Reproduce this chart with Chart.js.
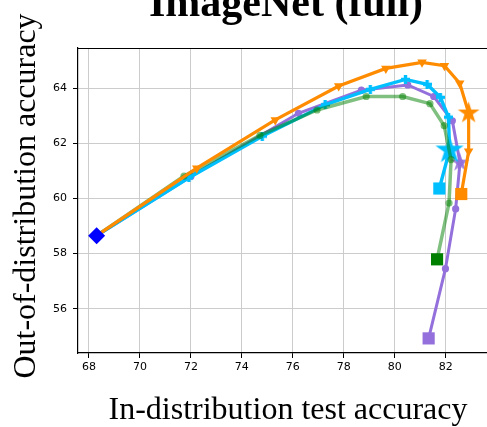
<!DOCTYPE html>
<html>
<head>
<meta charset="utf-8">
<script src="https://cdn.jsdelivr.net/npm/chart.js@4/dist/chart.umd.min.js"></script>
<style>
  body { margin: 0; background: #fff; overflow: hidden; }
  #wrap { width: 487px; height: 427px; overflow: hidden; }
  canvas { display: block; }
</style>
</head>
<body>
<div id="wrap"><canvas id="chart" width="487" height="427"></canvas></div>
<script>
// values
const titleText = 'ImageNet (full)';
const xLabel = 'In-distribution test accuracy';
const yLabel = 'Out-of-distribution accuracy';

const xTicks = [68, 70, 72, 74, 76, 78, 80, 82];
const yTicks = [56, 58, 60, 62, 64];

const startX = [68.30];
const startY = [58.65];

const orangeX = [68.30, 72.23, 75.31, 77.80, 79.65, 81.07, 81.95, 82.55, 82.90, 82.90, 82.61];
const orangeY = [58.65, 61.10, 62.85, 64.08, 64.72, 64.94, 64.82, 64.18, 63.10, 61.71, 60.16];

const cyanX = [68.30, 71.92, 74.80, 77.27, 79.04, 80.42, 81.27, 81.79, 82.11, 82.15, 81.75];
const cyanY = [58.65, 60.75, 62.26, 63.40, 63.96, 64.32, 64.14, 63.67, 62.95, 61.75, 60.36];

const purpleX = [68.30, 72.00, 76.22, 78.69, 80.51, 81.53, 82.26, 82.56, 82.39, 81.99, 81.33];
const purpleY = [58.65, 60.80, 63.09, 63.93, 64.12, 63.70, 62.82, 61.30, 59.62, 57.45, 54.92];

const greenX = [68.30, 71.73, 74.71, 76.95, 78.88, 80.31, 81.38, 81.94, 82.21, 82.13, 81.66];
const greenY = [58.65, 60.81, 62.29, 63.21, 63.70, 63.70, 63.44, 62.64, 61.41, 59.83, 57.79];

// stars: orange, cyan, purple
const starX = [82.90, 82.15, 82.56];
const starY = [63.10, 61.75, 61.30];

const ORANGE = '#FF8C00', CYAN = '#00BFFF', PURPLE = '#9370DB', GREEN = '#008000';
const GREEN_A = 'rgba(0,128,0,0.5)';

const pts = (xs, ys) => xs.map((x, i) => ({ x: x, y: ys[i] }));
const last = (xs, ys) => [{ x: xs[xs.length - 1], y: ys[ys.length - 1] }];

function starImg(outer, color, alpha) { // filled 5 point star like matplotlib '*'
  const size = Math.ceil(outer * 2 + 2);
  const c = document.createElement('canvas');
  c.width = c.height = size;
  const g = c.getContext('2d');
  g.translate(size / 2, size / 2);
  g.globalAlpha = alpha || 1;
  g.fillStyle = color;
  g.beginPath();
  for (let i = 0; i < 10; i++) {
    const r = i % 2 ? outer * 0.382 : outer;
    const a = -Math.PI / 2 + i * Math.PI / 5;
    g.lineTo(Math.cos(a) * r, Math.sin(a) * r);
  }
  g.closePath();
  g.fill();
  return c;
}

function plusImg(size, arm, color) { // filled plus like matplotlib 'P'
  const c = document.createElement('canvas');
  c.width = c.height = size;
  const g = c.getContext('2d');
  g.fillStyle = color;
  const o = (size - arm) / 2;
  g.fillRect(o, 0, arm, size);
  g.fillRect(0, o, size, arm);
  return c;
}

// hide markers on first (shared start) and last (square) points
const midOnly = (r) => (ctx) => {
  const n = ctx.dataset.data.length;
  return (ctx.dataIndex === 0 || ctx.dataIndex === n - 1) ? 0 : r;
};

const lineDs = (xs, ys, color, width, extra) => Object.assign({
  data: pts(xs, ys),
  showLine: true,
  borderColor: color,
  backgroundColor: color,
  borderWidth: width,
  pointBorderWidth: 0,
  tension: 0
}, extra);

const squareDs = (xs, ys, color) => ({
  data: last(xs, ys),
  pointStyle: 'rect',
  pointRadius: 8.6,
  pointBorderWidth: 0,
  backgroundColor: color,
  borderColor: color
});

const decor = {
  id: 'decor',
  afterDraw(chart) {
    const { ctx, chartArea: a } = chart;
    ctx.save();
    ctx.strokeStyle = '#000';
    ctx.lineWidth = 1;
    ctx.beginPath();
    ctx.moveTo(a.left, a.top + 0.5);
    ctx.lineTo(a.right, a.top + 0.5);
    ctx.stroke();

    ctx.fillStyle = '#000';
    ctx.textAlign = 'center';
    ctx.textBaseline = 'alphabetic';
    ctx.font = 'bold 42px "Liberation Serif"';
    ctx.fillText(titleText, 286, 16);
    ctx.font = '32px "Liberation Serif"';
    ctx.fillText(xLabel, 288, 419);
    ctx.translate(35, 196);
    ctx.rotate(-Math.PI / 2);
    ctx.fillText(yLabel, 0, 0);
    ctx.restore();
  }
};

const tickFont = { family: 'DejaVu Sans', size: 11 };

function build(canvas) {
  return new Chart(canvas, {
    type: 'scatter',
    data: {
      datasets: [
        { data: pts(startX, startY), pointStyle: 'rectRot', pointRadius: 8.5, pointBorderWidth: 0, backgroundColor: '#0000FF', borderColor: '#0000FF' },
        squareDs(purpleX, purpleY, PURPLE),
        squareDs(greenX, greenY, GREEN),
        squareDs(orangeX, orangeY, ORANGE),
        squareDs(cyanX, cyanY, CYAN),
        { data: [{ x: starX[0], y: starY[0] }], pointStyle: starImg(11.5, ORANGE), pointRadius: 10 },
        lineDs(orangeX, orangeY, ORANGE, 3.2, {
          pointStyle: 'triangle', pointRotation: 180,
          pointRadius: midOnly(5.5)
        }),
        lineDs(greenX, greenY, GREEN_A, 3.5, { pointStyle: 'circle', pointRadius: midOnly(3.6) }),
        { data: [{ x: starX[1], y: starY[1] }], pointStyle: starImg(14.8, CYAN), pointRadius: 10 },
        lineDs(cyanX, cyanY, CYAN, 3.4, { pointStyle: plusImg(9, 3.4, CYAN), pointRadius: midOnly(5) }),
        { data: [{ x: starX[2], y: starY[2] }], pointStyle: starImg(10, PURPLE, 0.85), pointRadius: 10 },
        lineDs(purpleX, purpleY, PURPLE, 3, { pointStyle: 'circle', pointRadius: midOnly(3.6) })
      ]
    },
    options: {
      responsive: false,
      devicePixelRatio: 1,
      animation: false,
      events: [],
      layout: { padding: { top: 48, right: 0, left: 0, bottom: 0 } },
      plugins: { legend: { display: false }, tooltip: { enabled: false }, title: { display: false } },
      scales: {
        x: {
          type: 'linear',
          min: 67.57,
          max: 83.62,
          afterBuildTicks: (s) => { s.ticks = xTicks.map((v) => ({ value: v })); },
          afterFit: (s) => { s.height = 74; },
          grid: { color: '#cccccc', lineWidth: 1, tickColor: '#000', tickLength: 5 },
          border: { color: '#000', width: 1.2 },
          ticks: { color: '#000', font: tickFont, padding: 3, maxRotation: 0 }
        },
        y: {
          type: 'linear',
          min: 54.39,
          max: 65.46,
          afterBuildTicks: (s) => { s.ticks = yTicks.map((v) => ({ value: v })); },
          afterFit: (s) => { s.width = 78; },
          grid: { color: '#cccccc', lineWidth: 1, tickColor: '#000', tickLength: 5 },
          border: { color: '#000', width: 1.2 },
          ticks: { color: '#000', font: tickFont, padding: 6 }
        }
      }
    },
    plugins: [decor]
  });
}

// the plot area runs off the right edge of the picture, so widen the canvas
// until chartArea.right lands on 487 (the wrapper crops the rest)
const canvas = document.getElementById('chart');
let chart = build(canvas);
for (let k = 0; k < 3; k++) {
  const gap = 487 - chart.chartArea.right;
  if (Math.abs(gap) < 0.5) break;
  const w = Math.round(canvas.width + gap);
  chart.destroy();
  canvas.width = w;
  canvas.height = 427;
  canvas.style.width = w + 'px';
  canvas.style.height = '427px';
  chart = build(canvas);
}
</script>
</body>
</html>
